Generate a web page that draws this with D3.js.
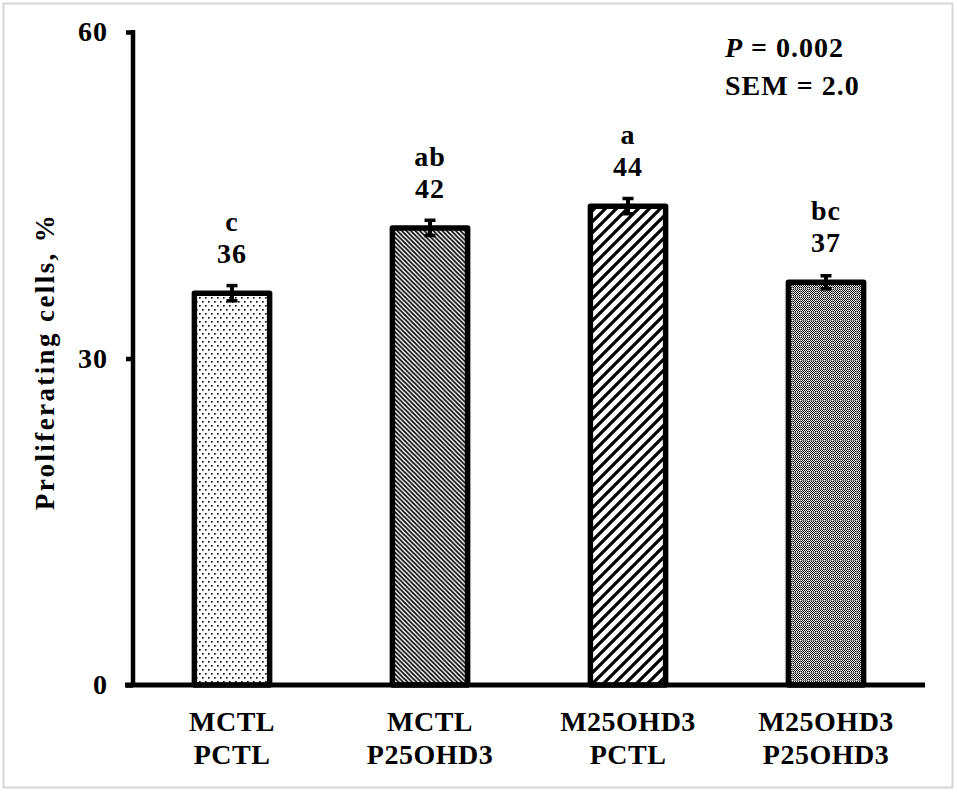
<!DOCTYPE html>
<html><head><meta charset="utf-8">
<script src="https://cdn.jsdelivr.net/npm/d3@7"></script>
<style>
html,body{margin:0;padding:0;background:#fff;}
svg{display:block;font-family:"Liberation Serif","Times New Roman",serif;font-weight:bold;}
</style></head>
<body>
<svg id="chart" width="957" height="792"></svg>
<script>
const categories = ["MCTL\nPCTL", "MCTL\nP25OHD3", "M25OHD3\nPCTL", "M25OHD3\nP25OHD3"];
const values = [36, 42, 44, 37];
const errors = [0.7, 0.7, 0.7, 0.6];
const letters = ["c", "ab", "a", "bc"];
const yTicks = [0, 30, 60];
const patternIds = ["dots", "denseDiag", "wideDiag", "checker"];

const svg = d3.select("#chart");
const W = 957, H = 792;
const margin = {left: 133, right: 32, top: 32, bottom: 107};
const x0 = margin.left, x1 = W - margin.right;
const yTop = margin.top, yBot = H - margin.bottom;
const FS = 28;

// frame
svg.append("rect").attr("x", 3.5).attr("y", 3.5).attr("width", 949).attr("height", 784)
  .attr("fill", "none").attr("stroke", "#d6d6d6").attr("stroke-width", 2);

const defs = svg.append("defs");
// pattern 1: sparse dots
let p = defs.append("pattern").attr("id", "dots").attr("patternUnits", "userSpaceOnUse").attr("width", 6).attr("height", 8);
p.append("rect").attr("width", 6).attr("height", 8).attr("fill", "#fff");
p.append("rect").attr("x", 1).attr("y", 1).attr("width", 1.6).attr("height", 1.6).attr("fill", "#000");
p.append("rect").attr("x", 4).attr("y", 5).attr("width", 1.6).attr("height", 1.6).attr("fill", "#000");
// pattern 2: dense downward diagonal
p = defs.append("pattern").attr("id", "denseDiag").attr("patternUnits", "userSpaceOnUse").attr("width", 4.5).attr("height", 4.5);
p.append("rect").attr("width", 4.5).attr("height", 4.5).attr("fill", "#fff");
p.append("path").attr("d", "M-1,-1 L5.5,5.5 M-1,3.5 L1,5.5 M3.5,-1 L5.5,1").attr("stroke", "#000").attr("stroke-width", 1.7);
// pattern 3: wide upward diagonal
p = defs.append("pattern").attr("id", "wideDiag").attr("patternUnits", "userSpaceOnUse").attr("width", 11).attr("height", 11);
p.append("rect").attr("width", 11).attr("height", 11).attr("fill", "#fff");
p.append("path").attr("d", "M-1,12 L12,-1 M-3,3 L3,-3 M8,14 L14,8").attr("stroke", "#000").attr("stroke-width", 3.2);
// pattern 4: checker with light grid
p = defs.append("pattern").attr("id", "checker").attr("patternUnits", "userSpaceOnUse").attr("width", 8).attr("height", 8);
p.append("rect").attr("width", 8).attr("height", 8).attr("fill", "#fff");
for (let i = 0; i < 8; i++) for (let j = 0; j < 8; j++) {
  if ((i + j) % 2 === 0 && i !== 0 && j !== 0) p.append("rect").attr("x", i).attr("y", j).attr("width", 1).attr("height", 1).attr("fill", "#000");
}
p.append("rect").attr("x", 1).attr("y", 0).attr("width", 7).attr("height", 1).attr("fill", "#000").attr("opacity", 0.45);
p.append("rect").attr("x", 0).attr("y", 1).attr("width", 1).attr("height", 7).attr("fill", "#000").attr("opacity", 0.45);

const x = d3.scaleBand().domain(categories).range([x0, x1]).paddingInner(0.62).paddingOuter(0.31);
const y = d3.scaleLinear().domain([0, 60]).range([yBot, yTop]);

const data = categories.map((c, i) => ({c, v: values[i], e: errors[i], l: letters[i], p: patternIds[i]}));

// bars
svg.append("g").selectAll("rect").data(data).join("rect")
  .attr("x", d => x(d.c)).attr("width", x.bandwidth())
  .attr("y", d => y(d.v)).attr("height", d => y(0) - y(d.v))
  .attr("fill", d => `url(#${d.p})`).attr("stroke", "#000").attr("stroke-width", 5.5)
  .attr("stroke-linejoin", "round");

// error bars
const eb = svg.append("g").attr("stroke", "#000");
data.forEach(d => {
  const cx = x(d.c) + x.bandwidth() / 2;
  eb.append("line").attr("x1", cx).attr("x2", cx).attr("y1", y(d.v + d.e)).attr("y2", y(d.v - d.e)).attr("stroke-width", 4);
  [d.v + d.e, d.v - d.e].forEach(v => eb.append("line").attr("x1", cx - 5.5).attr("x2", cx + 5.5).attr("y1", y(v)).attr("y2", y(v)).attr("stroke-width", 3.5));
});

// labels
const lab = svg.append("g").attr("text-anchor", "middle").attr("font-size", FS).attr("letter-spacing", 1).attr("fill", "#000");
data.forEach(d => {
  const cx = x(d.c) + x.bandwidth() / 2;
  lab.append("text").attr("x", cx).attr("y", y(d.v) - 30).text(d3.format("d")(d.v));
  lab.append("text").attr("x", cx).attr("y", y(d.v) - 62).text(d.l);
});

// y axis
const yAxis = svg.append("g").attr("transform", `translate(${x0},0)`)
  .call(d3.axisLeft(y).tickValues(yTicks).tickSize(7).tickPadding(18).tickSizeOuter(0));
yAxis.select(".domain").attr("stroke-width", 4.5).attr("d", `M0,${y(0)}V${y(60) - 2}`);
yAxis.selectAll(".tick line").attr("stroke-width", 4.5);
yAxis.selectAll(".tick text").attr("font-size", FS).attr("letter-spacing", 1).attr("font-family", "Liberation Serif").attr("font-weight", "bold").attr("fill", "#000").attr("dy", "0.32em");

// x axis
const xAxis = svg.append("g").attr("transform", `translate(0,${yBot})`)
  .call(d3.axisBottom(x).tickSize(0).tickFormat(""));
xAxis.select(".domain").attr("stroke-width", 5).attr("d", `M${x0 - 8},0H${x1}`);
const xl = svg.append("g").attr("text-anchor", "middle").attr("font-size", FS).attr("letter-spacing", 0.5).attr("fill", "#000");
data.forEach(d => {
  const cx = x(d.c) + x.bandwidth() / 2;
  const lines = d.c.split("\n");
  const t = xl.append("text").attr("x", cx).attr("y", yBot + 46);
  lines.forEach((ln, k) => t.append("tspan").attr("x", cx).attr("dy", k === 0 ? 0 : 33).text(ln));
});

// y axis title
svg.append("text").attr("transform", `translate(54,${(yTop + yBot) / 2 + 3}) rotate(-90)`)
  .attr("text-anchor", "middle").attr("font-size", 27).attr("letter-spacing", 2.4).text("Proliferating cells, %");

// annotation
const ann = svg.append("g").attr("font-size", FS).attr("letter-spacing", 1).attr("fill", "#000");
const t1 = ann.append("text").attr("x", 725).attr("y", 57);
t1.append("tspan").attr("font-style", "italic").text("P");
t1.append("tspan").text(" = 0.002");
ann.append("text").attr("x", 725).attr("y", 95).text("SEM = 2.0");
</script>
</body></html>
